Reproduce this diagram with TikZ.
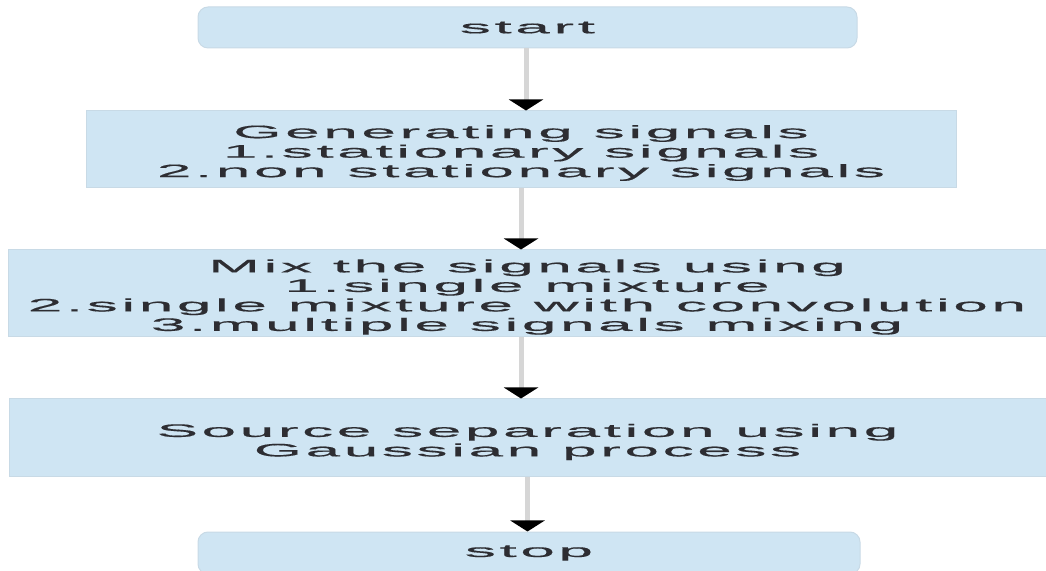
\documentclass[tikz,border=0pt]{standalone}
\usepackage{fontspec}
\usetikzlibrary{arrows.meta}
\newfontfamily\boxfont[FakeStretch=3.45,LetterSpace=20,FakeBold=0.6]{Liberation Sans}
\definecolor{boxfill}{RGB}{207,229,243}
\definecolor{boxedge}{RGB}{200,218,230}
\definecolor{shaft}{RGB}{214,214,214}
\definecolor{txt}{RGB}{45,45,50}
\newcommand\firstline{\rule{0pt}{20pt}}
\tikzset{
  flowbox/.style={draw=boxedge, line width=1pt, fill=boxfill, inner sep=0pt,
    align=center, text=txt, font=\boxfont\fontsize{18}{19.5}\selectfont},
  termbox/.style={flowbox, rounded corners=10pt},
  arr/.style={draw=shaft, line width=5pt,
    -{Triangle[width=34pt,length=11pt,color=black]}}
}
\begin{document}
\begin{tikzpicture}[x=1pt,y=1pt]
\useasboundingbox (0,0) rectangle (1046,570);
\node[termbox, minimum width=659pt, minimum height=41pt] (start) at (527.5,542.5) {start};
\node[flowbox, minimum width=870pt, minimum height=77pt] (b2) at (521,420.5)
  {\firstline Generating signals\\1.stationary signals\\2.non stationary signals};
\node[flowbox, minimum width=1038pt, minimum height=87pt] (b3) at (527,276.5)
  {\firstline Mix the signals using\\1.single mixture\\2.single mixture with convolution\\3.multiple signals mixing};
\node[flowbox, minimum width=1037pt, minimum height=78pt] (b4) at (527.5,132)
  {\rule{0pt}{21pt}Source separation using\\Gaussian process};
\node[termbox, minimum width=662pt, minimum height=42pt] (stop) at (529,17)
  {stop};
\draw[arr] ([xshift=-1.5pt]start.south) -- ([xshift=-1.5pt]start.south |- b2.north);
\draw[arr] (b2.south) -- (b2.south |- b3.north);
\draw[arr] ([xshift=-6pt]b3.south) -- ([xshift=-6pt]b3.south |- b4.north);
\draw[arr] (b4.south) -- (b4.south |- stop.north);
\end{tikzpicture}
\end{document}
